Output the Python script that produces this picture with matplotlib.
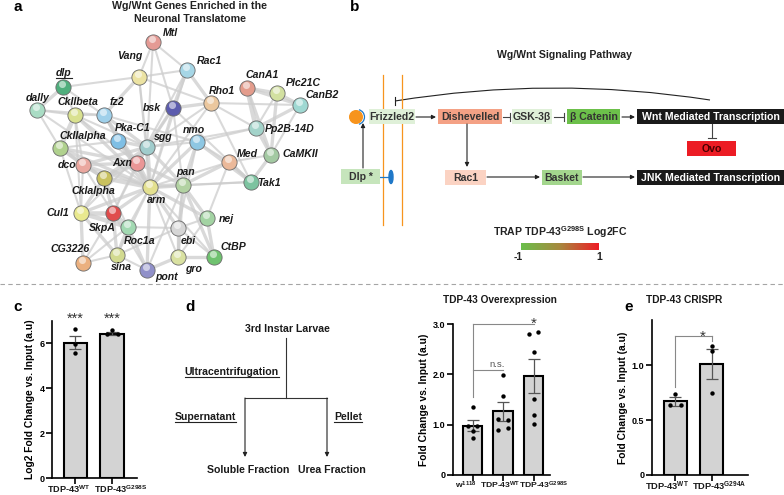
import numpy as np
import matplotlib
matplotlib.use("Agg")
import matplotlib.pyplot as plt
import matplotlib.transforms as mtransforms
from matplotlib.patches import Rectangle, Circle, Arc, Ellipse, PathPatch
from matplotlib.path import Path
from matplotlib.colors import LinearSegmentedColormap

plt.rcParams['font.family'] = ['Liberation Sans', 'DejaVu Sans']
plt.rcParams['font.weight'] = 'bold'
plt.rcParams['mathtext.fontset'] = 'custom'
plt.rcParams['mathtext.rm'] = 'Liberation Sans:bold'
plt.rcParams['mathtext.bf'] = 'Liberation Sans:bold'
plt.rcParams['mathtext.it'] = 'Liberation Sans:bold:italic'

# ---- panel a : STRING network (gene, node colour) ----
genes = ["Mtl", "Vang", "Rac1", "dlp", "dally", "CkIIbeta", "fz2", "bsk", "Rho1",
         "CanA1", "Plc21C", "CanB2", "Pp2B-14D", "CaMKII", "Med", "Tak1", "nmo",
         "sgg", "Pka-C1", "CkIIalpha", "dco", "Axn", "CkIalpha", "arm", "pan",
         "Cul1", "SkpA", "Roc1a", "ebi", "nej", "CG3226", "sina", "gro", "CtBP", "pont"]
gene_colors = ["#e49a94", "#ece3a3", "#a6d6e6", "#4fae7c", "#a9dcc4", "#d9e18f",
               "#9fd0ea", "#5c5cae", "#ebc79e", "#e39c8c", "#d2e0a0", "#9fd8d2",
               "#a3d3ca", "#a3c9a2", "#ebb99a", "#7dc3a0", "#8ec7e3", "#a0cccc",
               "#7fbfe5", "#b0d18e", "#eaa79f", "#ea9696", "#c9c15e", "#e3e08f",
               "#b2d2a2", "#e9e98f", "#e04c4c", "#a2d9b2", "#d6d6d6", "#a3d3a3",
               "#ebb07f", "#d2da90", "#d9e1a1", "#6fc26f", "#9090c9"]
# (pixel layout of each node and of its label)
layout = {
    "Mtl": (153, 42, 170, 33), "Vang": (139, 77, 130, 56), "Rac1": (187, 70, 209, 61),
    "dlp": (63, 87, 64, 73), "dally": (37, 110, 38, 98), "CkIIbeta": (75, 115, 78, 102),
    "fz2": (104, 115, 117, 102), "bsk": (173, 108, 152, 108), "Rho1": (211, 103, 222, 91),
    "CanA1": (247, 88, 262, 75), "Plc21C": (277, 93, 303, 83), "CanB2": (300, 105, 322, 95),
    "Pp2B-14D": (256, 128, 290, 129), "CaMKII": (271, 155, 300, 154), "Med": (229, 162, 247, 154),
    "Tak1": (251, 182, 269, 183), "nmo": (197, 142, 194, 130), "sgg": (147, 147, 163, 137),
    "Pka-C1": (118, 141, 133, 128), "CkIIalpha": (60, 148, 83, 136), "dco": (83, 165, 67, 165),
    "Axn": (137, 163, 122, 163), "CkIalpha": (104, 178, 93, 191), "arm": (150, 187, 157, 200),
    "pan": (183, 185, 186, 172), "Cul1": (81, 213, 58, 213), "SkpA": (113, 213, 102, 228),
    "Roc1a": (128, 227, 140, 241), "ebi": (178, 228, 188, 241), "nej": (207, 218, 226, 219),
    "CG3226": (83, 263, 70, 249), "sina": (117, 255, 121, 267), "gro": (178, 257, 193, 269),
    "CtBP": (214, 257, 233, 247), "pont": (147, 270, 167, 277),
}
edges = [
    ("Mtl", "Vang", 1), ("Mtl", "Rac1", 1), ("Mtl", "bsk", 1), ("Mtl", "sgg", 1),
    ("Vang", "Rac1", 1), ("Vang", "fz2", 2), ("Vang", "dlp", 1), ("Vang", "sgg", 1),
    ("Vang", "arm", 1), ("Vang", "Rho1", 1), ("Rac1", "bsk", 2), ("Rac1", "Rho1", 2),
    ("Rac1", "Axn", 1), ("Rac1", "arm", 1), ("dlp", "dally", 2), ("dlp", "fz2", 1),
    ("dlp", "CkIIbeta", 1), ("dally", "CkIIbeta", 1), ("dally", "arm", 1),
    ("dally", "CkIIalpha", 1), ("dally", "fz2", 1), ("CkIIbeta", "CkIIalpha", 3),
    ("CkIIbeta", "fz2", 1), ("CkIIbeta", "arm", 2), ("CkIIbeta", "Axn", 1),
    ("CkIIbeta", "dco", 1), ("CkIIbeta", "Cul1", 1), ("CkIIbeta", "sgg", 1),
    ("fz2", "arm", 2), ("fz2", "sgg", 2), ("fz2", "Axn", 2), ("fz2", "Pka-C1", 1),
    ("fz2", "nmo", 1), ("bsk", "Rho1", 2), ("bsk", "sgg", 2), ("bsk", "arm", 1),
    ("bsk", "Tak1", 1), ("bsk", "pan", 1), ("bsk", "Axn", 1), ("Rho1", "CanB2", 1),
    ("Rho1", "Pp2B-14D", 1), ("Rho1", "Tak1", 1), ("Rho1", "sgg", 1), ("Rho1", "arm", 1),
    ("CanA1", "Plc21C", 2), ("CanA1", "Pp2B-14D", 3), ("CanA1", "CanB2", 2),
    ("CanA1", "CaMKII", 2), ("Plc21C", "CanB2", 2), ("Plc21C", "CaMKII", 2),
    ("Plc21C", "Pp2B-14D", 1), ("CanB2", "Pp2B-14D", 2), ("CanB2", "CaMKII", 1),
    ("Pp2B-14D", "CaMKII", 2), ("Pp2B-14D", "sgg", 1), ("Pp2B-14D", "nmo", 1),
    ("CaMKII", "Tak1", 2), ("CaMKII", "Med", 1), ("Med", "Tak1", 2), ("Med", "pan", 2),
    ("Med", "arm", 1), ("Med", "nej", 1), ("Med", "nmo", 1), ("Tak1", "nmo", 2),
    ("Tak1", "arm", 1), ("Tak1", "pan", 1), ("nmo", "arm", 2), ("nmo", "pan", 2),
    ("nmo", "sgg", 1), ("nmo", "ebi", 1), ("sgg", "arm", 3), ("sgg", "Axn", 3),
    ("sgg", "pan", 2), ("sgg", "dco", 2), ("sgg", "CkIalpha", 2), ("sgg", "Pka-C1", 2),
    ("sgg", "SkpA", 1), ("sgg", "Cul1", 1), ("Pka-C1", "arm", 2), ("Pka-C1", "CkIIalpha", 1),
    ("Pka-C1", "Axn", 1), ("CkIIalpha", "dco", 2), ("CkIIalpha", "Axn", 2),
    ("CkIIalpha", "arm", 2), ("CkIIalpha", "Cul1", 1), ("CkIIalpha", "CkIalpha", 2),
    ("dco", "Axn", 2), ("dco", "arm", 2), ("dco", "CkIalpha", 2), ("dco", "Cul1", 1),
    ("dco", "SkpA", 1), ("Axn", "arm", 3), ("Axn", "CkIalpha", 3), ("Axn", "pan", 2),
    ("Axn", "SkpA", 1), ("CkIalpha", "arm", 3), ("CkIalpha", "SkpA", 2),
    ("CkIalpha", "Cul1", 2), ("CkIalpha", "Roc1a", 1), ("arm", "pan", 3), ("arm", "SkpA", 2),
    ("arm", "Cul1", 2), ("arm", "nej", 2), ("arm", "ebi", 2), ("arm", "CtBP", 1),
    ("arm", "gro", 1), ("arm", "Roc1a", 1), ("arm", "sina", 1), ("arm", "pont", 2),
    ("pan", "nej", 2), ("pan", "CtBP", 2), ("pan", "gro", 2), ("pan", "ebi", 1),
    ("pan", "pont", 1), ("Cul1", "SkpA", 3), ("Cul1", "Roc1a", 3), ("Cul1", "CG3226", 2),
    ("Cul1", "sina", 2), ("SkpA", "Roc1a", 3), ("SkpA", "sina", 2), ("SkpA", "CG3226", 1),
    ("SkpA", "pont", 1), ("Roc1a", "sina", 2), ("Roc1a", "CG3226", 1), ("Roc1a", "pont", 2),
    ("Roc1a", "ebi", 1), ("ebi", "gro", 2), ("ebi", "CtBP", 1), ("ebi", "nej", 1),
    ("ebi", "sina", 1), ("nej", "CtBP", 2), ("nej", "gro", 1), ("CtBP", "gro", 2),
    ("gro", "pont", 2), ("sina", "pont", 1), ("sina", "CG3226", 1),
]

# ---- panel b : pathway boxes (label, fill colour, text colour) ----
path_boxes = ["Frizzled2", "Dishevelled", "GSK-3β", "β Catenin", "Wnt Mediated Transcription",
              "Ovo", "Dlp *", "Rac1", "Basket", "JNK Mediated Transcription"]
path_fill = ["#dff0d8", "#f4a185", "#dff0d8", "#6cc04a", "#1a1a1a",
             "#ec1c24", "#c6e5bc", "#fbd3c3", "#a3d68d", "#1a1a1a"]
path_text = ["#333333", "#333333", "#333333", "#333333", "white",
             "#4a0000", "#333333", "#333333", "#333333", "white"]
box_px = [(369, 109, 415, 124), (438, 109, 502, 124), (512, 109, 552, 124), (567, 109, 620, 124),
          (637, 109, 784, 124), (687, 141, 736, 156), (341, 169, 380, 184), (445, 170, 486, 185),
          (542, 170, 582, 185), (637, 170, 784, 185)]

# ---- panels c, d, e : bar data ----
c_labels = [r"TDP-43$^{\mathrm{WT}}$", r"TDP-43$^{\mathrm{G298S}}$"]
c_means = [6.02, 6.42]
c_errs = [0.30, 0.08]
c_points = [[6.62, 5.96, 5.56], [6.59, 6.40, 6.40]]

d_labels = [r"w$^{\mathrm{1118}}$", r"TDP-43$^{\mathrm{WT}}$", r"TDP-43$^{\mathrm{G298S}}$"]
d_means = [0.98, 1.27, 1.96]
d_errs = [0.11, 0.19, 0.34]
d_points = [[1.36, 0.97, 0.97, 0.87, 0.74],
            [1.99, 1.57, 1.12, 1.10, 0.90, 0.93],
            [2.81, 2.85, 2.44, 1.51, 1.19, 1.01]]

e_labels = [r"TDP-43$^{\mathrm{WT}}$", r"TDP-43$^{\mathrm{G294A}}$"]
e_means = [0.67, 1.01]
e_errs = [0.04, 0.14]
e_points = [[0.74, 0.64, 0.64], [1.17, 1.13, 0.75]]

W, H = 784, 495
fig = plt.figure(figsize=(W / 100, H / 100), dpi=100)
ov = fig.add_axes([0, 0, 1, 1])
ov.set_xlim(0, W)
ov.set_ylim(H, 0)
ov.axis("off")


def px_axes(x0, y0, x1, y1):
    return fig.add_axes([x0 / W, 1 - y1 / H, (x1 - x0) / W, (y1 - y0) / H])


def underlined(x, y, s, ha="center", size=7.6, style="normal"):
    t = ov.text(x, y, s, ha=ha, va="center", fontsize=size, fontweight="bold", style=style,
                color="#1a1a1a")
    r = fig.canvas.get_renderer()
    bb = t.get_window_extent(r)
    x0 = bb.x0 / fig.dpi * 100
    x1 = bb.x1 / fig.dpi * 100
    yb = H - bb.y0 / fig.dpi * 100
    ov.plot([x0, x1], [yb, yb], color="#222222", lw=0.8)


def arrow(x0, y0, x1, y1, lw=0.8):
    ov.annotate("", xy=(x1, y1), xytext=(x0, y0),
                arrowprops=dict(arrowstyle="-|>", color="#222222", lw=lw, mutation_scale=6,
                                shrinkA=0, shrinkB=0))


def inhibit(x0, y0, x1, y1):
    ov.plot([x0, x1], [y0, y1], color="#444444", lw=0.8)
    if y0 == y1:
        ov.plot([x1, x1], [y1 - 4, y1 + 4], color="#444444", lw=0.8)
    else:
        ov.plot([x1 - 4, x1 + 4], [y1, y1], color="#444444", lw=0.8)


# panel letters and separator
for letter, lx, ly in [("a", 18, 7), ("b", 355, 7), ("c", 18, 307), ("d", 190, 307), ("e", 629, 307)]:
    ov.text(lx, ly, letter, fontsize=11, fontweight="bold", ha="center", va="center")
ov.plot([0, W], [284, 284], color="#a5a5a5", lw=0.8, ls=(0, (4, 3)))

# ---- a ----
ov.text(190, 6, "Wg/Wnt Genes Enriched in the", ha="center", va="center", fontsize=7.7, color="#222222")
ov.text(190, 19, "Neuronal Translatome", ha="center", va="center", fontsize=7.7, color="#222222")
for g1, g2, wgt in edges:
    xa, ya = layout[g1][:2]
    xb, yb = layout[g2][:2]
    ov.plot([xa, xb], [ya, yb], color="#cdcdcd", lw=0.6 + 0.9 * wgt, alpha=0.75,
            solid_capstyle="round", zorder=1)
for g, col in zip(genes, gene_colors):
    nx, ny, lx, ly = layout[g]
    ov.scatter(nx, ny, s=120, color=col, edgecolor="#6a6a6a", linewidth=0.6, zorder=3)
    ov.scatter(nx - 0.5, ny - 3.0, s=26, color="white", alpha=0.55, linewidth=0, zorder=4)
    if g == "dlp":
        underlined(lx, ly, g, size=7.6, style="italic")
    else:
        ov.text(lx, ly, g, ha="center", va="center", fontsize=7.6, fontweight="bold",
                style="italic", color="#1a1a1a", zorder=5)

# ---- b ----
ov.text(565, 55, "Wg/Wnt Signaling Pathway", ha="center", va="center", fontsize=7.6, color="#222222")
ov.plot([383, 383], [75, 225], color="#f7941d", lw=0.9)
ov.plot([402, 402], [75, 225], color="#f7941d", lw=0.9)
ov.add_patch(Circle((356, 117), 6.3, color="#f7941d", zorder=3))
ov.add_patch(Arc((357, 117), 15, 15, theta1=-75, theta2=75, color="#1f78c8", lw=0.9, zorder=3))
ov.add_patch(Ellipse((391, 177), 4, 13, color="#1f78c8", zorder=3))
ov.plot([380, 389], [177, 177], color="#1f78c8", lw=0.9)
for name, fill, tc, (x0, y0, x1, y1) in zip(path_boxes, path_fill, path_text, box_px):
    ov.add_patch(Rectangle((x0, y0), x1 - x0, y1 - y0, facecolor=fill, edgecolor="none", zorder=2))
    ov.text((x0 + x1) / 2, (y0 + y1) / 2 + 0.5, name, ha="center", va="center", fontsize=7.6,
            fontweight="bold", color=tc, zorder=3)
arrow(416, 117, 436, 117)
inhibit(503, 117, 510, 117)
inhibit(554, 117, 564, 117)
arrow(622, 117, 635, 117)
inhibit(712, 124, 712, 138)
arrow(363, 168, 363, 123)
arrow(467, 124, 467, 167)
arrow(487, 177, 540, 177)
arrow(583, 177, 635, 177)
arc = Path([(710, 100), (552, 75.5), (395, 101)], [Path.MOVETO, Path.CURVE3, Path.CURVE3])
ov.add_patch(PathPatch(arc, facecolor="none", edgecolor="#222222", lw=0.8))
ov.plot([395, 395], [97, 105], color="#222222", lw=0.8)

ov.text(560, 232, r"TRAP TDP-43$^{\mathrm{G298S}}$ Log2FC", ha="center", va="center",
        fontsize=7.6, color="#222222")
cax = px_axes(521, 243, 599, 250)
grad_cmap = LinearSegmentedColormap.from_list("fc", ["#6abf4b", "#a8883e", "#ee1c25"])
cax.imshow(np.linspace(0, 1, 256)[None, :], aspect="auto", cmap=grad_cmap)
cax.axis("off")
ov.text(518, 257, "-1", ha="center", va="center", fontsize=7.6, color="#222222")
ov.text(599, 257, "1", ha="center", va="center", fontsize=7.6, color="#222222")

# ---- d flowchart ----
fl = dict(color="#333333", lw=0.8)
ov.text(287, 329, "3rd Instar Larvae", ha="center", va="center", fontsize=7.6, color="#1a1a1a")
ov.plot([286, 286], [338, 398], **fl)
ov.plot([245, 327], [398, 398], **fl)
arrow(245, 398, 245, 457)
arrow(327, 398, 327, 457)
underlined(279, 372, "Ultracentrifugation", ha="right")
underlined(236, 417, "Supernatant", ha="right")
underlined(348, 417, "Pellet")
ov.text(248, 470, "Soluble Fraction", ha="center", va="center", fontsize=7.6, color="#1a1a1a")
ov.text(332, 470, "Urea Fraction", ha="center", va="center", fontsize=7.6, color="#1a1a1a")
ov.text(500, 300, "TDP-43 Overexpression", ha="center", va="center", fontsize=7.3, color="#1a1a1a")
ov.text(684, 300, "TDP-43 CRISPR", ha="center", va="center", fontsize=7.4, color="#1a1a1a")


def bar_panel(ax, labels, means, errs, points, ylim, ticks, ticklabels, xlim, ylabel,
              label_size, label_shift):
    x = np.arange(len(means))
    ax.bar(x, means, width=0.64, color="#d3d3d3", edgecolor="black", linewidth=1.5, zorder=2)
    ax.errorbar(x, means, yerr=errs, fmt="none", ecolor="#555555", elinewidth=0.9,
                capsize=4, capthick=0.9, zorder=3)
    for i, pts in enumerate(points):
        n = len(pts)
        offs = np.zeros(n)
        # spread repeated values sideways
        for j in range(n):
            same = [k for k in range(n) if abs(pts[k] - pts[j]) < 0.06 * ylim[1] / 3]
            if len(same) > 1:
                offs[j] = (same.index(j) - (len(same) - 1) / 2) * 0.3
        ax.scatter(x[i] + offs, pts, s=10, color="black", zorder=4, linewidth=0)
    ax.set_xlim(*xlim)
    ax.set_ylim(*ylim)
    ax.set_yticks(ticks)
    ax.set_yticklabels(ticklabels, fontsize=6.5, fontweight="bold")
    ax.set_xticks(x)
    ax.set_xticklabels([])
    # GraphPad style: wide labels pushed apart sideways
    base = mtransforms.blended_transform_factory(ax.transData, ax.transAxes)
    for xi, lab, dx in zip(x, labels, label_shift):
        tr = base + mtransforms.ScaledTranslation(dx / 100, -5 / 100, fig.dpi_scale_trans)
        ax.text(xi, 0, lab, transform=tr, ha="center", va="top", fontsize=label_size,
                fontweight="bold", color="#1a1a1a", clip_on=False)
    ax.set_ylabel(ylabel, fontsize=7.4, fontweight="bold", labelpad=3)
    for s in ["top", "right"]:
        ax.spines[s].set_visible(False)
    for s in ["left", "bottom"]:
        ax.spines[s].set_linewidth(1.2)
    ax.tick_params(width=1.2, length=4, pad=1.5)
    ax.patch.set_alpha(0)
    return x


axc = px_axes(52, 321, 137, 478)
xc = bar_panel(axc, c_labels, c_means, c_errs, c_points, (0, 6.98), [0, 2, 4, 6],
               ["0", "2", "4", "6"], (-0.64, 1.68), "Log2 Fold Change vs. Input (a.u)",
               6.6, [-7, 8])
for xi in xc:
    axc.text(xi, 6.9, "***", ha="center", va="baseline", fontsize=10.5, color="#333333",
             fontweight="normal", clip_on=False)

axd = px_axes(453, 324, 550, 475)
xd = bar_panel(axd, d_labels, d_means, d_errs, d_points, (0, 3.0), [0, 1, 2, 3],
               ["0", "1.0", "2.0", "3.0"], (-0.64, 2.54), "Fold Change vs. Input (a.u)",
               6.1, [-7, -3, 10])
bc = dict(color="#888888", lw=0.8, clip_on=False)
axd.plot([xd[0], xd[2]], [3.0, 3.0], **bc)
axd.plot([xd[0], xd[0]], [3.0, 1.55], **bc)
axd.plot([xd[0], xd[1]], [2.08, 2.08], **bc)
axd.text(xd[1] - 0.2, 2.1, "n.s.", ha="center", va="bottom", fontsize=6.8, fontweight="normal",
         color="#555555")
axd.text(xd[2], 2.93, "*", ha="center", va="baseline", fontsize=11, color="#333333",
         fontweight="normal", clip_on=False)

axe = px_axes(652, 320, 748, 475)
xe = bar_panel(axe, e_labels, e_means, e_errs, e_points, (0, 1.41), [0, 0.5, 1.0],
               ["0", "0.5", "1.0"], (-0.65, 2.01), "Fold Change vs. Input (a.u)",
               6.7, [-8, 8])
axe.plot([xe[0], xe[1]], [1.26, 1.26], **bc)
axe.plot([xe[0], xe[0]], [1.26, 0.80], **bc)
axe.plot([xe[1], xe[1]], [1.26, 1.22], **bc)
axe.text(xe[1] - 0.25, 1.22, "*", ha="center", va="baseline", fontsize=11, color="#333333",
         fontweight="normal")

fig.savefig("out.png", dpi=100)
